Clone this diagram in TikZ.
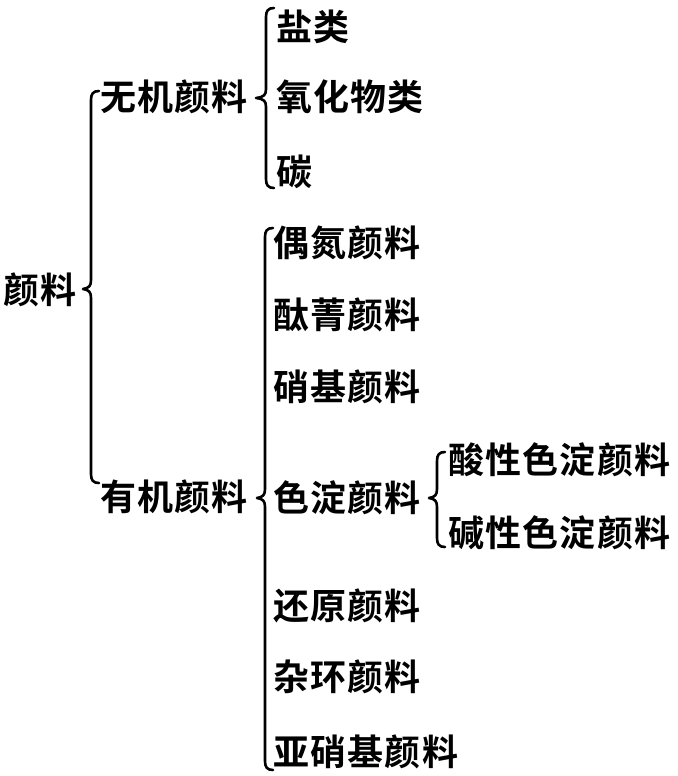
\documentclass[tikz,border=0pt]{standalone}
\usepackage{fontspec}
\newfontfamily\cjk[LetterSpace=3.5]{Noto Sans CJK SC Bold}
\newcommand\bracepath[5]{% x, ytop, ytip, ybot, tipx
  \draw[brc] (#1+8,#2) .. controls (#1+2,#2) and (#1,#2+3) .. (#1,#2+9)
    -- (#1,#3-9) .. controls (#1,#3-3) and (#1-2,#3-1) .. (#5,#3)
    .. controls (#1-2,#3+1) and (#1,#3+3) .. (#1,#3+9)
    -- (#1,#4-9) .. controls (#1,#4-3) and (#1+2,#4) .. (#1+8,#4);}
\begin{document}
\begin{tikzpicture}[x=1pt,y=-1pt,
  lbl/.style={anchor=west,inner sep=0pt,font=\cjk\fontsize{36}{36}\selectfont},
  brc/.style={line width=2.6pt,line cap=round,line join=round}]
\useasboundingbox[fill=white] (0,0) rectangle (677,776);
\node[lbl] (root) at (3,290) {颜料};
\node[lbl] (inorg) at (100,97) {无机颜料};
\node[lbl] (org) at (100,497) {有机颜料};
\node[lbl] (a1) at (276,27) {盐类};
\node[lbl] (a2) at (276,97) {氧化物类};
\node[lbl] (a3) at (276,172) {碳};
\node[lbl] (b1) at (273,243) {偶氮颜料};
\node[lbl] (b2) at (273,315) {酞菁颜料};
\node[lbl] (b3) at (273,387) {硝基颜料};
\node[lbl] (b4) at (273,498) {色淀颜料};
\node[lbl] (b5) at (273,606) {还原颜料};
\node[lbl] (b6) at (273,677) {杂环颜料};
\node[lbl] (b7) at (273,752) {亚硝基颜料};
\node[lbl] (c1) at (448,460) {酸性色淀颜料};
\node[lbl] (c2) at (448,533) {碱性色淀颜料};
\bracepath{91}{91}{289}{483}{83}
\bracepath{266}{8}{98}{188}{256}
\bracepath{265}{228}{498}{770}{257}
\bracepath{437}{452}{498}{547}{429}
\end{tikzpicture}
\end{document}
